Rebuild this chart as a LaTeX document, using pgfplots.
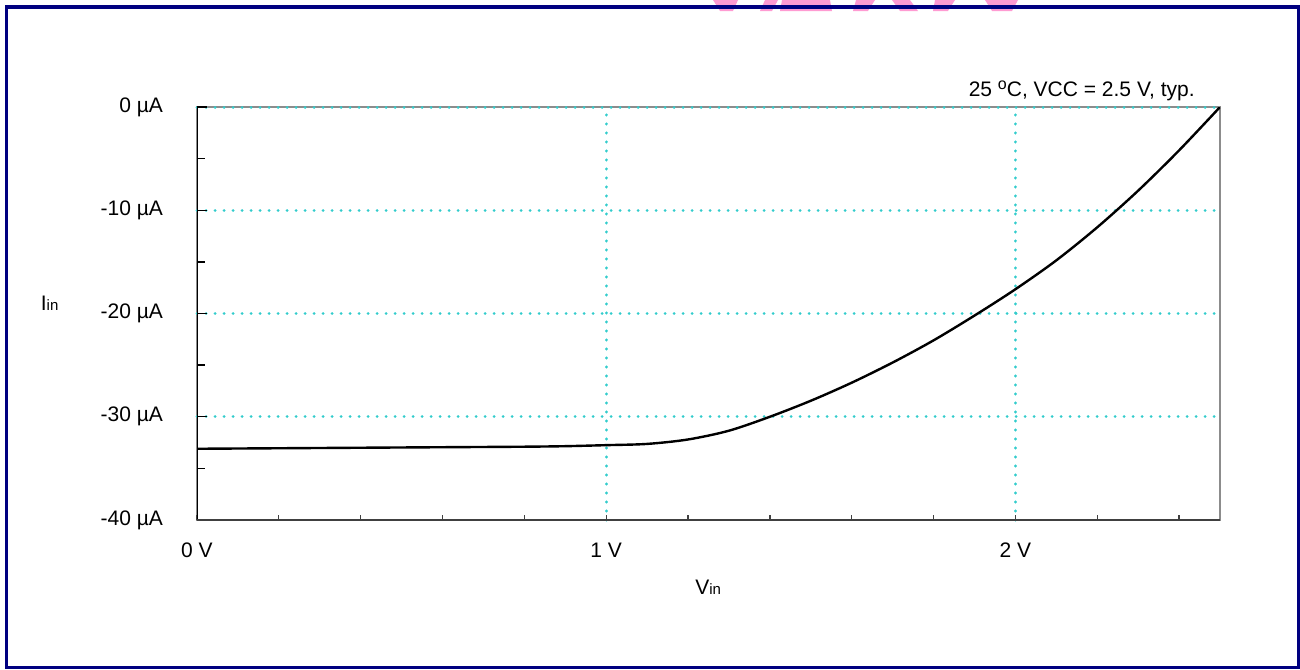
\documentclass[border=0pt]{standalone}
\usepackage{fontspec}
\setmainfont{Liberation Sans}
\usepackage{pgfplots}
\pgfplotsset{compat=1.18}
\definecolor{navyb}{RGB}{0,0,128}
\definecolor{gridc}{RGB}{51,204,204}
\definecolor{pinkw}{RGB}{255,155,210}
\begin{document}
\begin{tikzpicture}[x=0.5pt,y=-0.5pt]
\useasboundingbox (0,0) rectangle (1300,669);
% partial watermark at the top
\fill[pinkw] (713,0) -- (738,0) -- (733,11) -- (720,11) -- cycle;
\fill[pinkw] (765,0) -- (778,0) -- (772,11) -- (760,11) -- cycle;
\fill[pinkw] (782,0) -- (830,0) -- (832,11) -- (780,11) -- cycle;
\fill[pinkw] (856,0) -- (875,0) -- (868,11) -- (853,11) -- cycle;
\fill[pinkw] (892,0) -- (910,0) -- (918,11) -- (900,11) -- cycle;
\fill[pinkw] (935,0) -- (955,0) -- (948,11) -- (933,11) -- cycle;
\fill[pinkw] (985,0) -- (1018,0) -- (1012,11) -- (992,11) -- cycle;
\draw[navyb, line width=1.75pt] (6.5,7) rectangle (1299,667.5);
\begin{axis}[
  at={(98.5pt,-260pt)}, anchor=south west,
  width=511.5pt, height=206.5pt, scale only axis,
  xmin=0, xmax=2.5, ymin=-40, ymax=0,
  axis line style={draw=none},
  axis background/.style={draw=black!45, line width=1pt},
  xtick={1,2},
  xticklabels={1 V,2 V},
  extra x ticks={0}, extra x tick labels={0 V},
  extra x tick style={grid=none},
  minor xtick={0.2,0.4,0.6,0.8,1.2,1.4,1.6,1.8,2.2,2.4},
  ytick={-30,-20,-10,0},
  yticklabels={-30 µA,-20 µA,-10 µA,0 µA},
  extra y ticks={-40}, extra y tick labels={-40 µA},
  extra y tick style={grid=none},
  minor ytick={-35,-25,-15,-5},
  xtick pos=bottom, ytick pos=left, tick align=inside,
  xtick style={black!75, line width=0.65pt, /pgfplots/major tick length=2.5pt, /pgfplots/minor tick length=2.5pt},
  ytick style={black, line width=0.65pt, /pgfplots/major tick length=5pt, /pgfplots/minor tick length=3.85pt},
  xmajorgrids, ymajorgrids,
  major grid style={gridc, line width=1.5pt, line cap=round, dash pattern=on 0.1pt off 4.4pt},
  tick label style={font=\fontsize{10.5}{12}\selectfont},
  yticklabel style={xshift=-13.5pt},
  xticklabel style={yshift=-7.85pt},
]
\addplot[black, line width=1.2pt, smooth] coordinates {
(0,-33.1) (0.2,-33.05) (0.4,-33.0) (0.6,-32.95) (0.8,-32.9) (0.9,-32.85)
(1.0,-32.75) (1.1,-32.63) (1.2,-32.2) (1.3,-31.35) (1.4,-30.0) (1.5,-28.45)
(1.6,-26.7) (1.7,-24.75) (1.8,-22.6) (1.9,-20.2) (2.0,-17.65) (2.1,-14.85)
(2.2,-11.65) (2.3,-8.1) (2.4,-4.2) (2.5,0)
};
\draw[black, line width=1pt] (rel axis cs:0,0) -- (rel axis cs:0,1);
\draw[black!75, line width=1pt] (rel axis cs:0,0) -- (rel axis cs:1,0);
\end{axis}
\node[anchor=base east, inner sep=0pt, font=\fontsize{10.5}{12}\selectfont] at (1195,96)
  {25 {\fontsize{8}{9}\selectfont\raisebox{3.4pt}{o}}C, VCC = 2.5 V, typ.};
\node[anchor=base west, inner sep=0pt, font=\fontsize{10.5}{12}\selectfont] at (40.5,310)
  {I{\fontsize{7.5}{9}\selectfont in}};
\node[anchor=base west, inner sep=0pt, font=\fontsize{10.5}{12}\selectfont] at (695,594)
  {V{\fontsize{7.5}{9}\selectfont in}};
\end{tikzpicture}
\end{document}
